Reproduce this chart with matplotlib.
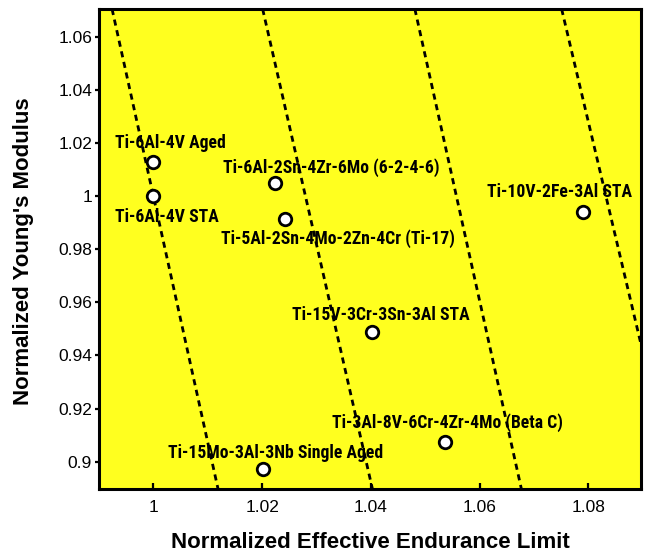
import matplotlib
matplotlib.use("Agg")
import matplotlib.pyplot as plt
from matplotlib import font_manager

# alloys, normalized values
alloys = ["Ti-6Al-4V Aged", "Ti-6Al-4V STA", "Ti-6Al-2Sn-4Zr-6Mo (6-2-4-6)",
          "Ti-5Al-2Sn-4Mo-2Zn-4Cr (Ti-17)", "Ti-10V-2Fe-3Al STA",
          "Ti-15V-3Cr-3Sn-3Al STA", "Ti-3Al-8V-6Cr-4Zr-4Mo (Beta C)",
          "Ti-15Mo-3Al-3Nb Single Aged"]
endurance = [1.0, 1.0, 1.0223, 1.0242, 1.0790, 1.0402, 1.0536, 1.0201]
modulus = [1.0128, 1.0, 1.0049, 0.9914, 0.9940, 0.9488, 0.9074, 0.8973]

# where each label sits (left edge, middle)
label_x = [0.9929, 0.9929, 1.0128, 1.0124, 1.0613, 1.0255, 1.0328, 1.0027]
label_y = [1.0200, 0.9921, 1.0106, 0.9842, 1.0016, 0.9552, 0.9146, 0.9033]

# dashed guide lines: x at the top and bottom of the plot
dash_y = [1.0705, 0.8897]
dash_top_x = [0.9924, 1.0201, 1.0481, 1.0751]
dash_bottom_x = [1.0119, 1.0403, 1.0677, 1.0960]

xticks = [1.0, 1.02, 1.04, 1.06, 1.08]
yticks = [0.9, 0.92, 0.94, 0.96, 0.98, 1.0, 1.02, 1.04, 1.06]


def pick_font(names):
    for name in names:
        try:
            font_manager.findfont(name, fallback_to_default=False)
            return name
        except Exception:
            pass
    return "DejaVu Sans"


base_font = pick_font(["Liberation Sans", "Arial"])
narrow_font = pick_font(["Liberation Sans Narrow", "Arial Narrow", "Roboto Condensed", "Liberation Sans"])
plt.rcParams["font.family"] = [base_font, "DejaVu Sans"]

fig = plt.figure(figsize=(6.47, 5.54), dpi=100)
ax = fig.add_axes([99 / 647, 1 - 489 / 554, 542 / 647, 480 / 554])
ax.set_facecolor("#FFFF1F")

for top, bottom in zip(dash_top_x, dash_bottom_x):
    ax.plot([top, bottom], dash_y, color="black", lw=2.0,
            linestyle=(0, (2.2, 1.7)), zorder=2)

ax.plot(endurance, modulus, linestyle="none", marker="o", markersize=9,
        markerfacecolor="white", markeredgecolor="black", markeredgewidth=2,
        zorder=4)

for name, lx, ly in zip(alloys, label_x, label_y):
    ax.text(lx, ly, name, ha="left", va="center", fontsize=12.7,
            fontweight="bold", family=[narrow_font, "DejaVu Sans"], zorder=5)

ax.set_xlim(0.99, 1.0897)
ax.set_ylim(0.8897, 1.0705)
ax.set_xticks(xticks)
ax.set_xticklabels(["%g" % t for t in xticks])
ax.set_yticks(yticks)
ax.set_yticklabels(["%g" % t for t in yticks])

ax.tick_params(axis="x", direction="in", length=4, width=1.6, pad=8, labelsize=12.5)
ax.tick_params(axis="y", direction="out", length=3, width=1.6, pad=2, labelsize=12.5)
for spine in ax.spines.values():
    spine.set_linewidth(2.2)

ax.set_xlabel("Normalized Effective Endurance Limit", fontsize=16, fontweight="bold")
ax.set_ylabel("Normalized Young's Modulus", fontsize=16, fontweight="bold")
ax.xaxis.set_label_coords(0.5, -0.09)
ax.yaxis.set_label_coords(-0.12, 0.495)

fig.savefig("out.png", dpi=100)
